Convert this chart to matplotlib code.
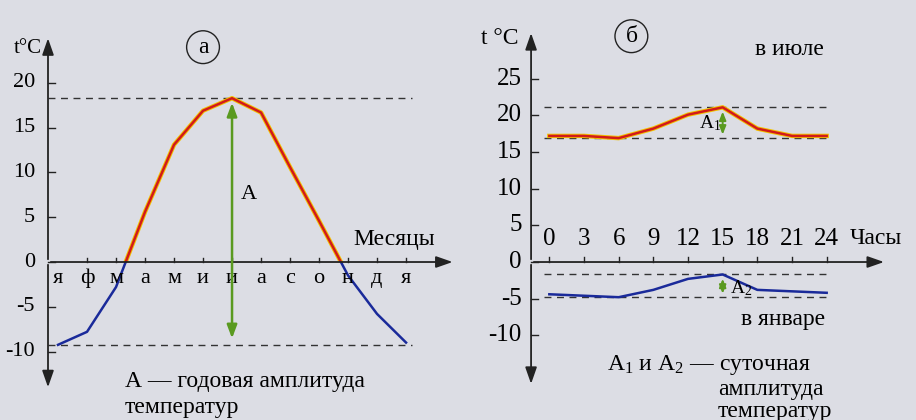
import matplotlib
matplotlib.use("Agg")
import matplotlib.pyplot as plt
from matplotlib.patches import Rectangle

months = ["я","ф","м","а","м","и","и","а","с","о","н","д","я"]
annual = [-9.25,-7.8,-2.8,5.6,13.1,16.9,18.3,16.7,10.6,4.6,-1.5,-5.8,-9.0]
hours = [0,3,6,9,12,15,18,21,24]
july = [17.2,17.2,16.9,18.2,20.1,21.1,18.2,17.2,17.2]
january = [-4.4,-4.6,-4.8,-3.8,-2.3,-1.7,-3.8,-4.0,-4.2]
left_yticks = [-10,-5,0,5,10,15,20]
right_yticks = [-10,-5,0,5,10,15,20,25]

bg = "#dcdde4"
plt.rcParams['font.family'] = ['Liberation Serif', 'DejaVu Serif']
plt.rcParams['mathtext.fontset'] = 'custom'
plt.rcParams['mathtext.rm'] = 'Liberation Serif'
plt.rcParams['mathtext.it'] = 'Liberation Serif'
fig = plt.figure(figsize=(9.16,4.2), dpi=100, facecolor=bg)
FS = 16

# ---------- left panel ----------
ax = fig.add_axes([0,0,460/916,1]); ax.set_axis_off()
ax.set_xlim(-2,13.86); ax.set_ylim(-17.65,29.27)
ya = -0.345
arr = dict(arrowstyle="-|>,head_width=0.35,head_length=1.0", color="#222", lw=1.3)
ax.annotate("", xy=(ya,25.3), xytext=(ya,0), arrowprops=arr)
ax.annotate("", xy=(ya,-14.3), xytext=(ya,0), arrowprops=arr)
ax.annotate("", xy=(13.7,0), xytext=(ya,0), arrowprops=arr)
for v in left_yticks:
    ax.plot([ya,ya+0.25],[v,v],color="#222",lw=1)
    ax.text(ya-0.45,v,str(v),ha="right",va="center",fontsize=FS)
for i,m in enumerate(months):
    if i > 0:
        ax.plot([i,i],[0,0.5],color="#222",lw=1)
    ax.text(i,-1.8,m,ha="center",va="center",fontsize=FS)
xs = list(range(len(months)))
mx = max(annual); mn = min(annual)
ax.plot([ya,12.2],[mx,mx],ls=(0,(5,4)),color="#333",lw=1)
ax.plot([ya,12.2],[mn,mn],ls=(0,(5,4)),color="#333",lw=1)
l1, = ax.plot(xs,annual,color="#f2c200",lw=3.2)
l2, = ax.plot(xs,annual,color="#d21a1a",lw=1.8)
l3, = ax.plot(xs,annual,color="#1a2a9a",lw=1.8)
top = Rectangle((-2,0),20,40,transform=ax.transData)
bot = Rectangle((-2,-40),20,40,transform=ax.transData)
l1.set_clip_path(top); l2.set_clip_path(top); l3.set_clip_path(bot)
g = dict(arrowstyle="<|-|>,head_width=0.3,head_length=0.8", color="#5a9a20", lw=1.8)
ax.annotate("", xy=(6,mx-0.2), xytext=(6,mn+0.4), arrowprops=g)
ax.text(6.3,7.5,"A",fontsize=FS,ha="left",va="center")
ax.text(-1.05,23.8,"t°C",fontsize=FS-1,ha="center",va="center")
ax.text(5.0,24.0,"а",fontsize=FS+1,ha="center",va="center",
        bbox=dict(boxstyle="circle,pad=0.25",fc="none",ec="#222",lw=1))
ax.text(11.6,2.5,"Месяцы",fontsize=FS+1,ha="center",va="center")
ax.text(2.3,-13.3,"А — годовая амплитуда",fontsize=FS+1,ha="left",va="center")
ax.text(2.3,-16.3,"температур",fontsize=FS+1,ha="left",va="center")

# ---------- right panel ----------
bx = fig.add_axes([460/916,0,456/916,1]); bx.set_axis_off()
bx.set_xlim(-7.73,31.73); bx.set_ylim(-21.55,35.74)
yb = -1.58
bx.annotate("", xy=(yb,31.6), xytext=(yb,0), arrowprops=arr)
bx.annotate("", xy=(yb,-17.0), xytext=(yb,0), arrowprops=arr)
bx.annotate("", xy=(29.2,0), xytext=(yb,0), arrowprops=arr)
for v in right_yticks:
    bx.plot([yb,yb+0.6],[v,v],color="#222",lw=1)
    bx.text(yb-0.8,v,str(v),ha="right",va="center",fontsize=FS+2)
for h in hours:
    bx.plot([h,h],[0,0.7],color="#222",lw=1)
    bx.text(h,3.2,str(h),ha="center",va="center",fontsize=FS+2)
bx.text(28.3,3.2,"Часы",fontsize=FS+1,ha="center",va="center")
for v in [max(july),min(july),max(january),min(january)]:
    bx.plot([-0.5,24],[v,v],ls=(0,(5,4)),color="#333",lw=1)
bx.plot(hours,july,color="#f2c200",lw=3.2)
bx.plot(hours,july,color="#d21a1a",lw=1.8)
bx.plot(hours,january,color="#1a2a9a",lw=1.8)
g2 = dict(arrowstyle="<|-|>,head_width=0.2,head_length=0.5", color="#5a9a20", lw=1.4)
bx.annotate("", xy=(15,max(july)-0.2), xytext=(15,min(july)+0.1), arrowprops=g2)
bx.annotate("", xy=(15,max(january)-0.2), xytext=(15,min(january)+0.1), arrowprops=g2)
bx.text(13.9,19.0,"A$_1$",fontsize=FS-2,ha="center",va="center")
bx.text(16.6,-3.5,"A$_2$",fontsize=FS-2,ha="center",va="center")
bx.text(-4.3,30.5,"t °C",fontsize=FS+1,ha="center",va="center")
bx.text(7.1,30.8,"б",fontsize=FS+1,ha="center",va="center",
        bbox=dict(boxstyle="circle,pad=0.25",fc="none",ec="#222",lw=1))
bx.text(20.8,29.0,"в июле",fontsize=FS+1,ha="center",va="center")
bx.text(20.2,-7.8,"в январе",fontsize=FS+1,ha="center",va="center")
bx.text(5.0,-14.0,"A$_1$ и A$_2$ — суточная",fontsize=FS+1,ha="left",va="center")
bx.text(14.6,-17.4,"амплитуда",fontsize=FS+1,ha="left",va="center")
bx.text(14.6,-20.4,"температур",fontsize=FS+1,ha="left",va="center")

fig.savefig("out.png",dpi=100,facecolor=bg)
